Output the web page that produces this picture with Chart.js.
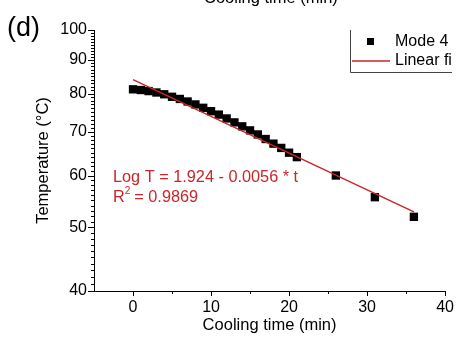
<!DOCTYPE html>
<html>
<head>
<meta charset="utf-8">
<script src="https://cdn.jsdelivr.net/npm/chart.js@4/dist/chart.umd.min.js"></script>
<style>
  html, body { margin: 0; padding: 0; background: #fff; }
  #wrap { position: relative; width: 461px; height: 343px; overflow: hidden; }
  .lbl { position: absolute; font-family: "Liberation Sans", Arial, sans-serif; color: #000; white-space: nowrap; }
</style>
</head>
<body>
<div id="wrap">
  <canvas id="chart" width="461" height="343"></canvas>
  <div class="lbl" style="left:204px; top:-11px; font-size:16.5px; line-height:16px;">Cooling time (min)</div>
  <div class="lbl" style="left:7px; top:12px; font-size:27px; line-height:30px;">(d)</div>
</div>
<script>
// measured cooling curve (min, °C)
const times = [0, 1, 2, 3, 4, 5, 6, 7, 8, 9, 10, 11, 12, 13, 14, 15, 16, 17, 18, 19, 20, 21, 26, 31, 36];
const temps = [81.2, 81.0, 80.7, 80.3, 79.8, 79.1, 78.5, 77.8, 77.0, 76.1, 75.2, 74.3, 73.3, 72.3, 71.3, 70.3, 69.3, 68.2, 67.1, 66.1, 65.0, 64.0, 60.0, 55.6, 51.9];

// fitted line end points
const fitX = [0, 36];
const fitY = [84.0, 52.8];

const xMajor = [0, 10, 20, 30, 40];
const xMinor = [5, 15, 25, 35];
const yMajor = [40, 50, 60, 70, 80, 90, 100];
const yMinor = [];
for (let v = 41; v < 100; v++) if (v % 10 !== 0) yMinor.push(v);

const red = '#c8262b';
const font = '"Liberation Sans", Arial, sans-serif';

const tickMarks = {
  id: 'tickMarks',
  afterDraw(chart) {
    const ctx = chart.ctx;
    const x = chart.scales.x, y = chart.scales.y;
    const a = chart.chartArea;
    ctx.save();
    ctx.strokeStyle = '#000';
    ctx.lineWidth = 1;
    ctx.beginPath();
    xMajor.forEach(v => { const p = Math.round(x.getPixelForValue(v)) + 0.5; ctx.moveTo(p, a.bottom); ctx.lineTo(p, a.bottom + 5); });
    xMinor.forEach(v => { const p = Math.round(x.getPixelForValue(v)) + 0.5; ctx.moveTo(p, a.bottom); ctx.lineTo(p, a.bottom + 3); });
    yMajor.forEach(v => { const p = Math.round(y.getPixelForValue(v)) + 0.5; ctx.moveTo(a.left - 6, p); ctx.lineTo(a.left, p); });
    yMinor.forEach(v => { const p = Math.round(y.getPixelForValue(v)) + 0.5; ctx.moveTo(a.left - 3, p); ctx.lineTo(a.left, p); });
    ctx.stroke();

    // fit equation
    ctx.fillStyle = red;
    ctx.font = '16.3px ' + font;
    ctx.textBaseline = 'middle';
    ctx.fillText('Log T = 1.924 - 0.0056 * t', 113, 178);
    ctx.fillText('R', 113, 198);
    const rw = ctx.measureText('R').width;
    ctx.font = '10px ' + font;
    ctx.fillText('2', 113 + rw, 191);
    ctx.font = '16.3px ' + font;
    ctx.fillText(' = 0.9869', 113 + rw + 5, 198);

    // legend (cut at right edge like the source)
    ctx.beginPath();
    ctx.rect(0, 0, 452, 343);
    ctx.clip();
    ctx.strokeStyle = '#444';
    ctx.beginPath();
    ctx.moveTo(350.5, 30); ctx.lineTo(350.5, 72.5); ctx.lineTo(461, 72.5);
    ctx.stroke();
    ctx.fillStyle = '#000';
    ctx.fillRect(367, 38, 7, 7);
    ctx.font = '16px ' + font;
    ctx.fillText('Mode 4', 395, 42);
    ctx.strokeStyle = red;
    ctx.lineWidth = 1.5;
    ctx.beginPath();
    ctx.moveTo(352, 61); ctx.lineTo(390, 61);
    ctx.stroke();
    ctx.fillText('Linear fit', 395, 61);
    ctx.restore();
  }
};

new Chart(document.getElementById('chart'), {
  type: 'scatter',
  data: {
    datasets: [
      {
        type: 'line',
        label: 'Linear fit',
        data: fitX.map((v, i) => ({ x: v, y: fitY[i] })),
        borderColor: red,
        borderWidth: 1.5,
        pointRadius: 0,
        fill: false,
        order: 0
      },
      {
        label: 'Mode 4',
        data: times.map((v, i) => ({ x: v, y: temps[i] })),
        pointStyle: 'rect',
        pointRadius: 5.9,
        backgroundColor: '#000',
        borderColor: '#000',
        borderWidth: 0,
        order: 1
      }
    ]
  },
  options: {
    responsive: false,
    animation: false,
    layout: { padding: { top: 30, right: 12, left: 0, bottom: 0 } },
    plugins: { legend: { display: false }, tooltip: { enabled: false } },
    scales: {
      x: {
        type: 'linear',
        min: -5,
        max: 40,
        afterBuildTicks: s => { s.ticks = xMajor.map(v => ({ value: v })); },
        afterFit: s => { s.height = 52; },
        grid: { display: false, drawTicks: false },
        border: { display: true, color: '#000', width: 1 },
        ticks: { color: '#000', font: { family: font, size: 16 }, padding: 7, maxRotation: 0 },
        title: { display: true, text: 'Cooling time (min)', color: '#000', font: { family: font, size: 16.5 }, padding: { top: 0, bottom: 8 } }
      },
      y: {
        type: 'logarithmic',
        min: 40,
        max: 100,
        afterBuildTicks: s => { s.ticks = yMajor.map(v => ({ value: v })); },
        afterFit: s => { s.width = 94; },
        grid: { display: false, drawTicks: false },
        border: { display: true, color: '#000', width: 1 },
        ticks: { color: '#000', font: { family: font, size: 16 }, padding: 7, autoSkip: false, callback: v => String(v) },
        title: { display: true, text: 'Temperature (°C)', color: '#000', font: { family: font, size: 16.5 }, padding: { top: 34, bottom: 0 } }
      }
    }
  },
  plugins: [tickMarks]
});
</script>
</body>
</html>
